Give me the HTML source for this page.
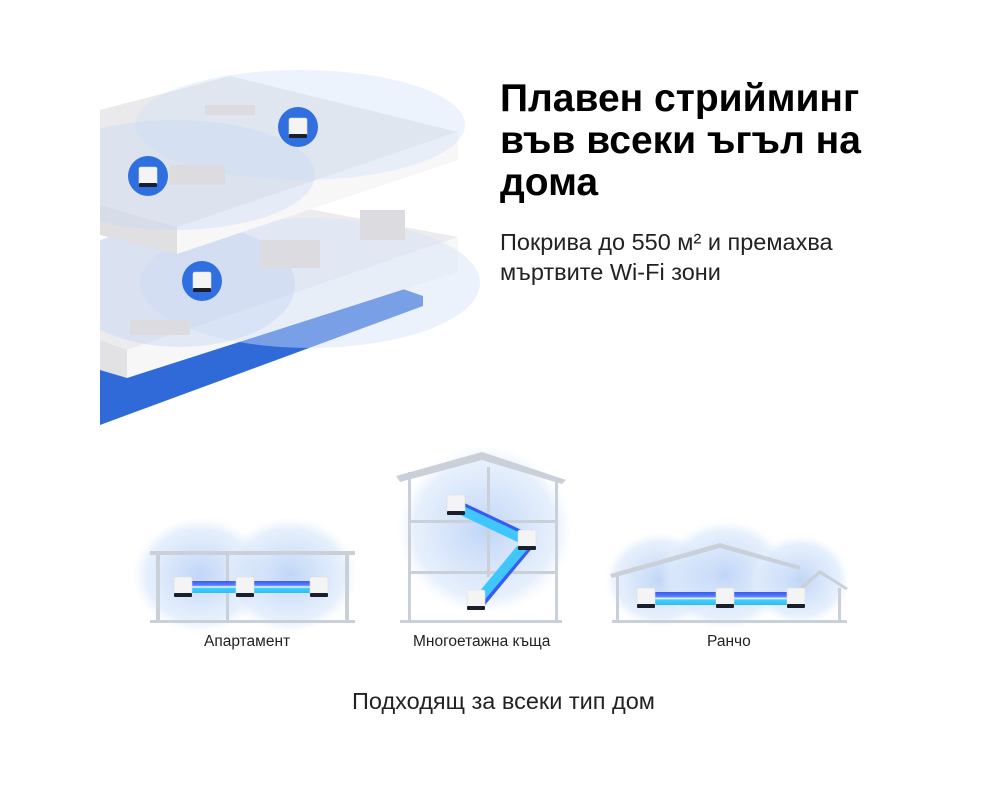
<!DOCTYPE html>
<html><head><meta charset="utf-8"><style>
html,body{margin:0;padding:0;background:#fff;}
body{width:1000px;height:800px;position:relative;overflow:hidden;font-family:"Liberation Sans",sans-serif;}
.t{position:absolute;color:#000;white-space:nowrap;}
</style></head><body>
<svg width="1000" height="800" style="position:absolute;left:0;top:0">
<defs>
<clipPath id="cl"><rect x="100" y="0" width="400" height="440"/></clipPath>
<radialGradient id="h" cx="50%" cy="50%" r="50%"><stop offset="0" stop-color="#b9d1f6" stop-opacity=".9"/><stop offset=".8" stop-color="#dce9fb" stop-opacity=".7"/><stop offset="1" stop-color="#eef4fd" stop-opacity="0"/></radialGradient>
<linearGradient id="ln" x1="0" y1="0" x2="0" y2="1"><stop offset="0" stop-color="#3b5bf0"/><stop offset=".35" stop-color="#5a7cff"/><stop offset=".5" stop-color="#fff"/><stop offset=".6" stop-color="#3fd0ff"/><stop offset="1" stop-color="#2fbbf5"/></linearGradient>
<g id="cube"><rect x="-9" y="-10" width="18" height="18" rx="2" fill="#f4f4f4" stroke="#ddd" stroke-width=".6"/><rect x="-9" y="6" width="18" height="4" rx="1" fill="#1a1f2e"/></g>
</defs>
<g clip-path="url(#cl)">
<polygon points="100,370 400,288 423,296 423,306 100,425" fill="#2f6ad8"/>
<polygon points="100,240 250,198 458,237 127,350 100,340" fill="#ececee"/>
<polygon points="127,350 458,237 458,272 127,378" fill="#f7f7f8"/>
<polygon points="100,340 127,350 127,378 100,370" fill="#e2e2e4"/>
<ellipse cx="310" cy="283" rx="170" ry="65" fill="#d4e3f8" opacity=".45"/>
<ellipse cx="180" cy="285" rx="115" ry="62" fill="#b9cff4" opacity=".35"/>
<polygon points="100,110 230,76 458,132 177,227 100,205" fill="#eaeaec"/>
<polygon points="177,227 458,132 458,160 177,254" fill="#f7f7f8"/>
<polygon points="100,205 177,227 177,254 100,235" fill="#e0e0e2"/>
<ellipse cx="300" cy="125" rx="165" ry="55" fill="#cfe0f8" opacity=".4"/>
<ellipse cx="175" cy="175" rx="140" ry="55" fill="#c2d6f5" opacity=".35"/>
<g fill="#dcdce0"><rect x="170" y="165" width="55" height="20"/><rect x="260" y="240" width="60" height="28"/><rect x="360" y="210" width="45" height="30"/><rect x="130" y="320" width="60" height="15"/><rect x="205" y="105" width="50" height="10"/></g>
</g>
<g><circle cx="298" cy="127" r="20" fill="#2f6fe0"/><use href="#cube" x="298" y="128"/>
<circle cx="148" cy="176" r="20" fill="#2f6fe0"/><use href="#cube" x="148" y="177"/>
<circle cx="202" cy="281" r="20" fill="#2f6fe0"/><use href="#cube" x="202" y="282"/></g>
<ellipse cx="200" cy="575" rx="68" ry="58" fill="url(#h)"/>
<ellipse cx="290" cy="575" rx="68" ry="58" fill="url(#h)"/>
<rect x="150" y="551" width="205" height="4" fill="#c9d0da"/>
<rect x="156" y="555" width="4" height="67" fill="#c9d0da"/><rect x="345" y="555" width="4" height="67" fill="#c9d0da"/><rect x="226" y="555" width="3" height="67" fill="#c9d0da"/>
<rect x="150" y="620" width="205" height="3" fill="#c9d0da"/>
<rect x="185" y="581" width="55" height="12" fill="url(#ln)"/><rect x="245" y="581" width="70" height="12" fill="url(#ln)"/>
<use href="#cube" x="183" y="587"/><use href="#cube" x="245" y="587"/><use href="#cube" x="319" y="587"/>
<ellipse cx="485" cy="530" rx="88" ry="85" fill="url(#h)"/>
<polygon points="396,476 482,452 566,480 562,484 482,460 400,482" fill="#c9d0da"/>
<rect x="408" y="472" width="3" height="150" fill="#c9d0da"/><rect x="555" y="478" width="3" height="144" fill="#c9d0da"/><rect x="487" y="467" width="3" height="110" fill="#c9d0da"/>
<rect x="408" y="520" width="150" height="3" fill="#c9d0da"/><rect x="408" y="571" width="150" height="3" fill="#c9d0da"/><rect x="400" y="620" width="162" height="3" fill="#c9d0da"/>
<polygon points="458,500 530,534 526,546 454,512" fill="#3fc6fb"/><polygon points="458,500 530,534 529,537 457,503" fill="#3b5bf0"/>
<polygon points="522,540 534,546 485,605 474,598" fill="#3fc6fb"/><polygon points="531,545 534,546 485,605 482,603" fill="#3b5bf0"/>
<use href="#cube" x="456" y="505"/><use href="#cube" x="527" y="540"/><use href="#cube" x="476" y="600"/>
<ellipse cx="660" cy="580" rx="55" ry="48" fill="url(#h)"/><ellipse cx="725" cy="575" rx="65" ry="55" fill="url(#h)"/><ellipse cx="800" cy="580" rx="50" ry="45" fill="url(#h)"/>
<polygon points="610,574 720,543 800,566 800,570 720,548 612,578" fill="#c9d0da"/>
<polygon points="798,588 820,570 848,588 846,590 820,574 800,592" fill="#c9d0da"/>
<rect x="612" y="620" width="235" height="3" fill="#c9d0da"/><rect x="616" y="575" width="3" height="46" fill="#c9d0da"/><rect x="838" y="588" width="3" height="33" fill="#c9d0da"/>
<rect x="650" y="592" width="70" height="13" fill="url(#ln)"/><rect x="728" y="592" width="65" height="13" fill="url(#ln)"/>
<use href="#cube" x="646" y="598"/><use href="#cube" x="725" y="598"/><use href="#cube" x="796" y="598"/>
</svg>
<div class="t" style="left:500px;top:78px;font-size:39px;font-weight:bold;line-height:42px;">Плавен стрийминг<br>във всеки ъгъл на<br>дома</div>
<div class="t" style="left:500px;top:227px;font-size:23.5px;line-height:30px;color:#222;">Покрива до 550 м² и премахва<br>мъртвите Wi-Fi зони</div>
<div class="t" style="left:204px;top:633px;font-size:15.5px;color:#222;">Апартамент</div>
<div class="t" style="left:413px;top:633px;font-size:15.5px;color:#222;">Многоетажна къща</div>
<div class="t" style="left:707px;top:633px;font-size:15.5px;color:#222;">Ранчо</div>
<div class="t" style="left:352px;top:688px;font-size:23.5px;color:#222;">Подходящ за всеки тип дом</div>
</body></html>
